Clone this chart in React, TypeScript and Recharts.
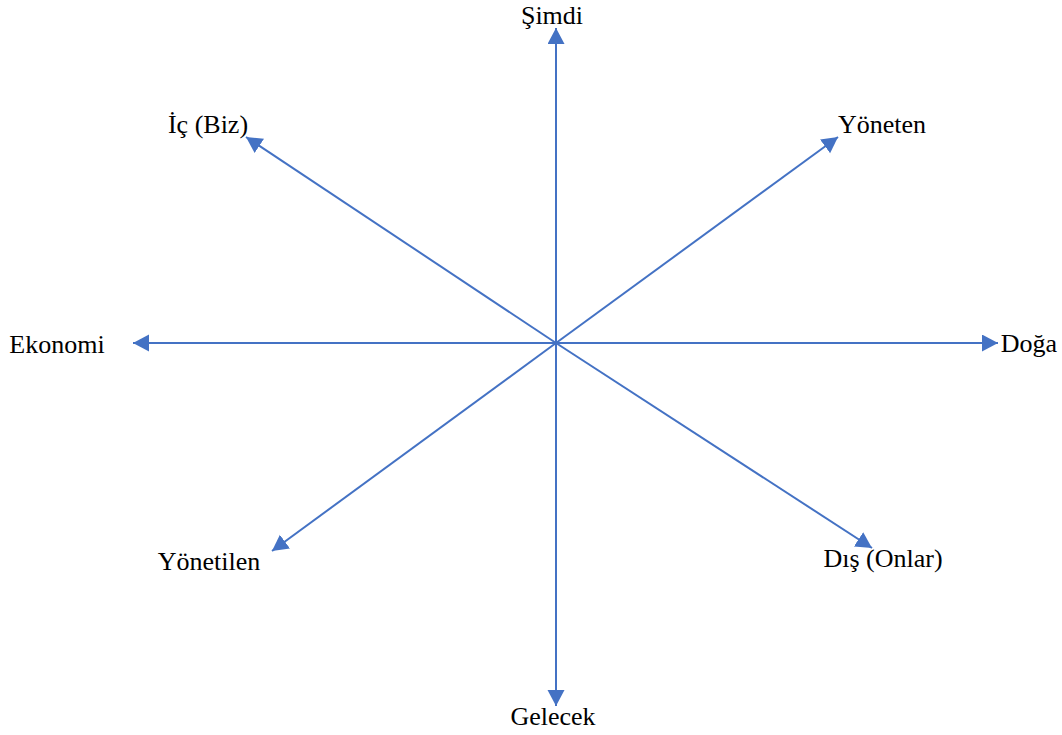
import React from "react";
import { ScatterChart, Scatter, XAxis, YAxis } from "recharts";

// Arrow tips, relative to the centre (x right, y up)
const arrowNames = ["Şimdi", "Gelecek", "Ekonomi", "Doğa", "İç (Biz)", "Yöneten", "Yönetilen", "Dış (Onlar)"];
const tipX = [0, 0, -423, 442, -310, 282, -284, 316];
const tipY = [315, -363, 0, 0, 206, 206, -208, -205];
// Label anchor points (text centre, baseline)
const labelX = [-4, -3, -499, 473, -348, 326, -347, 327];
const labelY = [319, -382, -10, -9, 210, 210, -227, -224];

const X_DOMAIN = [-556, 506];
const Y_DOMAIN = [-392, 343];
const BLUE = "#4472C4";

const arrows = arrowNames.map((name, i) => ({
  name,
  data: [
    { x: 0, y: 0 },
    { x: tipX[i], y: tipY[i] },
  ],
}));

const labels = arrowNames.map((name, i) => ({ name, x: labelX[i], y: labelY[i] }));

const Nothing = () => <g />;

const ArrowLine = (props: any) => {
  const pts = props.points || [];
  if (pts.length < 2) return <g />;
  const a = pts[0];
  const b = pts[pts.length - 1];
  return (
    <path
      d={`M${a.x},${a.y}L${b.x},${b.y}`}
      stroke={BLUE}
      strokeWidth={2}
      fill="none"
      markerEnd="url(#arrowHead)"
    />
  );
};

const LabelShape = (props: any) => (
  <text
    x={props.cx}
    y={props.cy}
    textAnchor="middle"
    fontFamily="'Liberation Serif', 'Times New Roman', serif"
    fontSize={26}
    fill="#000"
  >
    {props.payload.name}
  </text>
);

export default function App() {
  return (
    <div style={{ position: "absolute", left: 0, top: 0, background: "#fff" }}>
      <ScatterChart width={1062} height={735} margin={{ top: 0, right: 0, bottom: 0, left: 0 }}>
        <defs>
          <marker
            id="arrowHead"
            markerUnits="userSpaceOnUse"
            markerWidth={18}
            markerHeight={18}
            refX={16}
            refY={8.5}
            orient="auto"
          >
            <path d="M0,0 L16,8.5 L0,17 Z" fill={BLUE} />
          </marker>
        </defs>
        <XAxis type="number" dataKey="x" domain={X_DOMAIN} hide allowDataOverflow />
        <YAxis type="number" dataKey="y" domain={Y_DOMAIN} hide allowDataOverflow />
        {arrows.map((a) => (
          <Scatter
            key={a.name}
            data={a.data}
            line={ArrowLine}
            shape={Nothing}
            isAnimationActive={false}
          />
        ))}
        <Scatter data={labels} shape={LabelShape} isAnimationActive={false} />
      </ScatterChart>
    </div>
  );
}
